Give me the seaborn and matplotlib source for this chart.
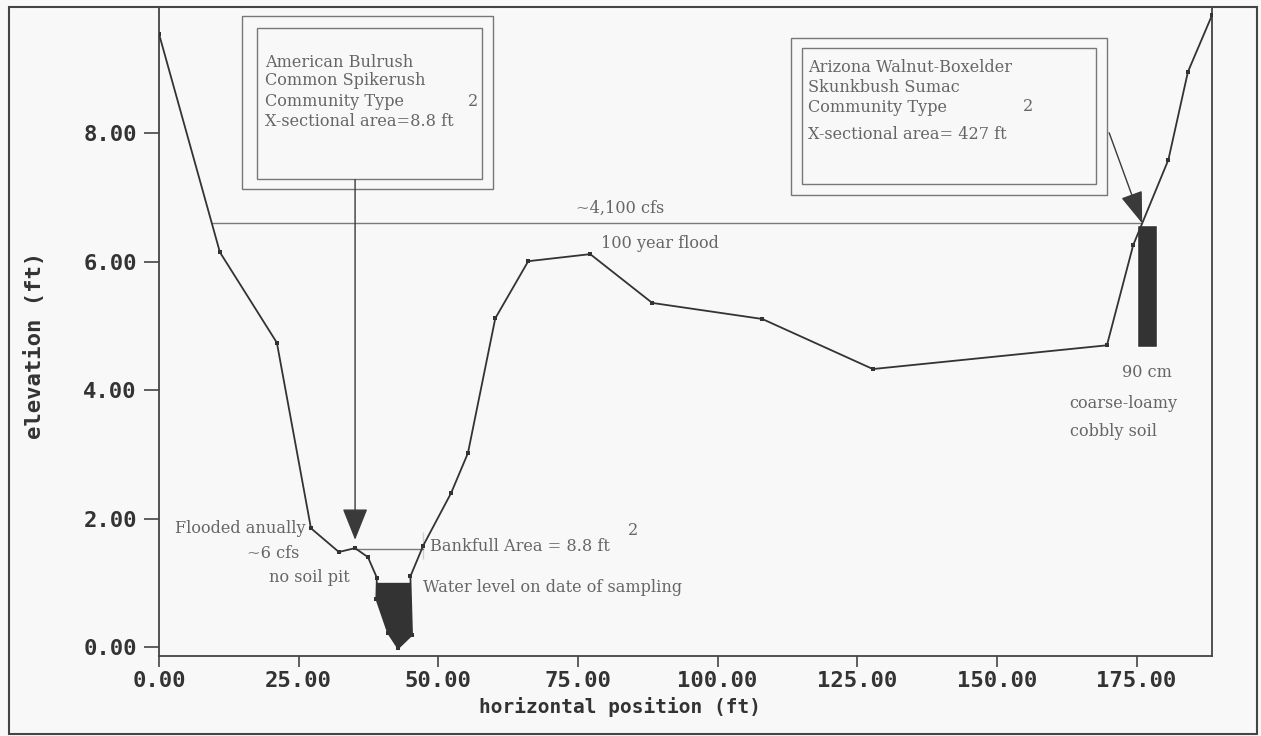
import numpy as np
import matplotlib
matplotlib.use("Agg")
from matplotlib import pyplot as plt
from matplotlib.patches import Rectangle
import seaborn as sns

# channel cross-section profile (ft)
station_ft = [0.0, 10.9, 21.1, 27.2, 32.2, 35.1, 37.4, 39.0, 38.9, 41.0, 42.8,
              45.3, 45.0, 47.3, 47.3, 52.3, 55.3, 60.2, 66.1, 77.2, 88.3,
              108.0, 127.8, 169.7, 174.4, 180.7, 184.2, 188.5]
elevation_ft = [9.55, 6.15, 4.74, 1.85, 1.48, 1.54, 1.40, 1.08, 0.75, 0.22, -0.02,
                0.19, 1.10, 1.37, 1.79, 2.40, 3.02, 5.12, 6.01, 6.12, 5.36,
                5.11, 4.33, 4.70, 6.26, 7.59, 8.96, 9.84]

water_level_ft = 1.0
bankfull_ft = 1.53
flood_100yr_ft = 6.6
bankfull_arrow_x = 35.1

# soil pit on the right terrace
soil_pit_x = 176.9
soil_pit_width = 3.6
soil_pit_top = 6.57
soil_pit_bottom = 4.67

x_ticks = [0, 25, 50, 75, 100, 125, 150, 175]
y_ticks = [0, 2, 4, 6, 8]

LINE = "#333333"
GREY = "#666666"
BG = "#f8f8f8"

sns.set_style("white")
plt.rcParams["font.family"] = ["DejaVu Sans Mono"]

fig = plt.figure(figsize=(12.61, 7.36), dpi=100, facecolor=BG)
ax = fig.add_axes([0.1261, 0.1087, 0.835, 0.8818])
ax.set_facecolor(BG)


def crossings(xs, ys, level):
    """x positions where the profile crosses a given elevation"""
    out = []
    for x0, y0, x1, y1 in zip(xs[:-1], ys[:-1], xs[1:], ys[1:]):
        if (y0 - level) * (y1 - level) < 0:
            out.append(x0 + (level - y0) / (y1 - y0) * (x1 - x0))
    return out


def below(xs, ys, level):
    # polygon of the profile under the water surface
    poly = []
    for x0, y0, x1, y1 in zip(xs[:-1], ys[:-1], xs[1:], ys[1:]):
        if y0 <= level:
            poly.append((x0, y0))
        if (y0 - level) * (y1 - level) < 0:
            poly.append((x0 + (level - y0) / (y1 - y0) * (x1 - x0), level))
    return np.array(poly)


# water in the channel
water = below(station_ft, elevation_ft, water_level_ft)
ax.fill(water[:, 0], water[:, 1], color=LINE, lw=0, zorder=2)

# soil pit
ax.bar(soil_pit_x, soil_pit_top - soil_pit_bottom, bottom=soil_pit_bottom,
       width=soil_pit_width, color=LINE, zorder=2)

# reference water surfaces
flood_x = crossings(station_ft, elevation_ft, flood_100yr_ft)
ax.plot([flood_x[0], flood_x[-1]], [flood_100yr_ft] * 2, color="#7a7a7a", lw=1, zorder=1)
bank_x = crossings(station_ft, elevation_ft, bankfull_ft)
ax.plot([bankfull_arrow_x, bank_x[-1]], [bankfull_ft] * 2, color="#7a7a7a", lw=1, zorder=1)

# surveyed profile
sns.lineplot(x=station_ft, y=elevation_ft, sort=False, ax=ax, color=LINE, lw=1.3,
             marker="s", markersize=3.5, markeredgewidth=0, markerfacecolor=LINE,
             zorder=3)

ax.set_xlim(0, 188.5)
ax.set_ylim(-0.14, 9.97)
ax.set_xticks(x_ticks)
ax.set_yticks(y_ticks)
ax.set_xticklabels([f"{t:.2f}" for t in x_ticks])
ax.set_yticklabels([f"{t:.2f}" for t in y_ticks])
ax.tick_params(axis="x", direction="out", length=8, width=1.2, color="#444444",
               labelsize=16, labelcolor="#333333", pad=3, bottom=True)
ax.tick_params(axis="y", direction="out", length=11, width=1.2, color="#444444",
               labelsize=16, labelcolor="#333333", pad=5, left=True)
for lab in ax.get_xticklabels() + ax.get_yticklabels():
    lab.set_fontweight("bold")
for sp in ax.spines.values():
    sp.set_color("#444444")
    sp.set_linewidth(1.3)

ax.set_xlabel("horizontal position (ft)", fontsize=14, color="#333333", fontweight="bold")
ax.set_ylabel("elevation (ft)", fontsize=16, color="#333333", fontweight="bold")
ax.xaxis.set_label_coords(0.438, -0.063)
ax.yaxis.set_label_coords(-0.108, 0.479)

# annotation boxes (double frame)
for (x0, y0, x1, y1) in [(0.0788, 0.7196, 0.3172, 0.9861), (0.0931, 0.735, 0.3067, 0.9676),
                         (0.6002, 0.7103, 0.9003, 0.9522), (0.6106, 0.7273, 0.8898, 0.9368)]:
    ax.add_patch(Rectangle((x0, y0), x1 - x0, y1 - y0, transform=ax.transAxes,
                           fill=False, ec="#777777", lw=1, zorder=4))

serif = dict(family="DejaVu Serif", fontsize=11.6, color=GREY, zorder=5)

box1 = ["American Bulrush", "Common Spikerush", "Community Type", "X-sectional area=8.8 ft"]
for line, yy in zip(box1, [9.11, 8.82, 8.50, 8.18]):
    ax.text(19.0, yy, line, va="center", ha="left", **serif)
ax.text(55.3, 8.50, "2", va="center", ha="left", **serif)

box2 = ["Arizona Walnut-Boxelder", "Skunkbush Sumac", "Community Type", "X-sectional area= 427 ft"]
for line, yy in zip(box2, [9.02, 8.71, 8.40, 7.98]):
    ax.text(116.2, yy, line, va="center", ha="left", **serif)
ax.text(154.7, 8.42, "2", va="center", ha="left", **serif)

# arrows from the boxes to the sampled community
ax.annotate("", xy=(bankfull_arrow_x, 1.67), xytext=(bankfull_arrow_x, 7.28),
            arrowprops=dict(arrowstyle="-|>,head_length=1.0,head_width=0.4",
                            mutation_scale=20, color="#3a3a3a", lw=1,
                            shrinkA=0, shrinkB=0), zorder=4)
ax.annotate("", xy=(flood_x[-1], flood_100yr_ft), xytext=(170.1, 8.01),
            arrowprops=dict(arrowstyle="-|>,head_length=1.0,head_width=0.35",
                            mutation_scale=20, color="#3a3a3a", lw=1,
                            shrinkA=0, shrinkB=0), zorder=4)

ax.text(82.5, 6.84, "~4,100 cfs", ha="center", va="center", **serif)
ax.text(89.7, 6.29, "100 year flood", ha="center", va="center", **serif)
ax.text(14.5, 1.85, "Flooded anually", ha="center", va="center", **serif)
ax.text(20.4, 1.46, "~6 cfs", ha="center", va="center", **serif)
ax.text(26.9, 1.09, "no soil pit", ha="center", va="center", **serif)
ax.text(48.5, 1.56, "Bankfull Area = 8.8 ft", ha="left", va="center", **serif)
ax.text(84.9, 1.81, "2", ha="center", va="center", **serif)
ax.text(47.3, 0.92, "Water level on date of sampling", ha="left", va="center", **serif)
ax.text(176.9, 4.28, "90 cm", ha="center", va="center", **serif)
ax.text(172.6, 3.80, "coarse-loamy", ha="center", va="center", **serif)
ax.text(170.8, 3.35, "cobbly soil", ha="center", va="center", **serif)

# outer frame round the whole figure
fig.patches.append(Rectangle((9 / 1261, 2 / 736), 1248 / 1261, 727 / 736,
                             transform=fig.transFigure, fill=False,
                             ec="#444444", lw=1.5))

fig.savefig("out.png", dpi=100, facecolor=BG)
